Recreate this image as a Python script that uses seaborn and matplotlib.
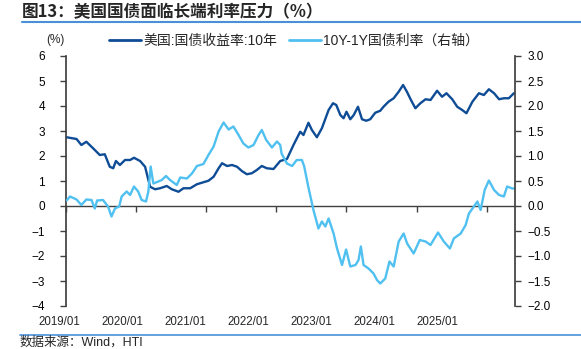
import numpy as np
import pandas as pd
import matplotlib
matplotlib.use("Agg")
import matplotlib.pyplot as plt
import matplotlib.dates as mdates
from matplotlib.lines import Line2D
from matplotlib.ticker import FixedLocator, NullFormatter, FuncFormatter
import seaborn as sns

# ---------------- data ----------------
title = "图13：美国国债面临长端利率压力（%）"
source = "数据来源：Wind，HTI"
series_names = ["美国:国债收益率:10年", "10Y-1Y国债利率（右轴）"]
x_labels = ["2019/01", "2020/01", "2021/01", "2022/01", "2023/01", "2024/01", "2025/01"]

dates_10y = [
    "2019-01-04", "2019-02-25", "2019-03-22", "2019-04-17", "2019-05-22", "2019-06-26",
    "2019-07-22", "2019-08-17", "2019-09-04", "2019-09-18", "2019-10-09", "2019-11-04",
    "2019-12-01", "2019-12-21", "2020-01-22", "2020-02-17", "2020-03-01", "2020-03-14",
    "2020-04-09", "2020-05-05", "2020-06-09", "2020-07-05", "2020-08-09", "2020-09-04",
    "2020-10-09", "2020-11-13", "2020-12-17", "2021-01-12", "2021-02-08", "2021-03-06",
    "2021-03-24", "2021-04-19", "2021-05-15", "2021-06-10", "2021-07-05", "2021-07-31",
    "2021-08-26", "2021-09-21", "2021-10-17", "2021-11-12", "2021-12-17", "2022-01-21",
    "2022-02-25", "2022-03-31", "2022-05-05", "2022-05-22", "2022-06-17", "2022-07-05",
    "2022-07-31", "2022-08-26", "2022-09-30", "2022-10-23", "2022-11-09", "2022-11-30",
    "2022-12-17", "2023-01-01", "2023-01-21", "2023-02-08", "2023-03-02", "2023-03-23",
    "2023-04-14", "2023-05-05", "2023-05-31", "2023-06-26", "2023-07-13", "2023-08-08",
    "2023-09-04", "2023-09-30", "2023-10-23", "2023-11-12", "2023-12-03", "2023-12-26",
    "2024-01-21", "2024-02-17", "2024-03-14", "2024-04-17", "2024-05-13", "2024-06-05",
    "2024-07-05", "2024-07-31", "2024-08-26", "2024-09-17", "2024-10-18", "2024-11-21",
    "2024-12-17", "2025-01-12", "2025-02-08", "2025-03-06", "2025-03-31", "2025-04-26",
    "2025-05-22",
]
yield_10y = [
    2.75, 2.68, 2.44, 2.57, 2.31, 2.04,
    2.07, 1.57, 1.51, 1.80, 1.64, 1.84,
    1.84, 1.93, 1.80, 1.57, 1.17, 0.77,
    0.67, 0.71, 0.80, 0.67, 0.57, 0.71,
    0.71, 0.87, 0.95, 1.01, 1.17, 1.51,
    1.71, 1.60, 1.64, 1.57, 1.40, 1.27,
    1.31, 1.44, 1.60, 1.51, 1.48, 1.80,
    1.88, 2.44, 2.97, 2.84, 3.33, 3.04,
    2.75, 3.11, 3.84, 4.11, 4.04, 3.64,
    3.51, 3.77, 3.47, 3.64, 3.97, 3.47,
    3.41, 3.47, 3.73, 3.81, 3.97, 4.17,
    4.31, 4.57, 4.84, 4.57, 4.24, 3.91,
    4.11, 4.27, 4.24, 4.61, 4.37, 4.51,
    4.27, 3.97, 3.84, 3.71, 4.17, 4.51,
    4.44, 4.67, 4.51, 4.27, 4.31, 4.31,
    4.51,
]

dates_spread = [
    "2019-01-04", "2019-01-22", "2019-02-25", "2019-03-22", "2019-04-17", "2019-05-14",
    "2019-05-31", "2019-06-12", "2019-07-13", "2019-08-08", "2019-08-26", "2019-09-13",
    "2019-10-05", "2019-10-18", "2019-11-13", "2019-12-01", "2019-12-21", "2020-01-12",
    "2020-01-30", "2020-02-22", "2020-03-05", "2020-03-17", "2020-03-31", "2020-04-26",
    "2020-05-14", "2020-06-05", "2020-06-26", "2020-07-31", "2020-08-18", "2020-09-22",
    "2020-10-18", "2020-11-13", "2020-12-17", "2021-01-12", "2021-02-08", "2021-03-06",
    "2021-04-01", "2021-04-27", "2021-05-22", "2021-06-18", "2021-07-13", "2021-08-08",
    "2021-09-04", "2021-09-30", "2021-10-17", "2021-11-09", "2021-12-09", "2022-01-04",
    "2022-01-21", "2022-01-28", "2022-02-25", "2022-03-24", "2022-04-17", "2022-05-14",
    "2022-05-26", "2022-06-17", "2022-07-13", "2022-08-08", "2022-08-26", "2022-09-13",
    "2022-09-30", "2022-10-26", "2022-11-13", "2022-12-09", "2022-12-30", "2023-01-21",
    "2023-02-17", "2023-03-05", "2023-03-17", "2023-03-31", "2023-04-26", "2023-05-22",
    "2023-06-09", "2023-06-26", "2023-07-22", "2023-08-13", "2023-09-04", "2023-09-30",
    "2023-10-26", "2023-11-13", "2023-12-17", "2024-01-18", "2024-02-17", "2024-03-14",
    "2024-04-22", "2024-05-22", "2024-06-23", "2024-07-13", "2024-08-18", "2024-09-13",
    "2024-09-30", "2024-10-26", "2024-11-13", "2024-11-30", "2024-12-21", "2025-01-12",
    "2025-02-08", "2025-03-06", "2025-03-31", "2025-04-17", "2025-05-14", "2025-05-26",
]
spread_10y_1y = [
    0.11, 0.19, 0.13, 0.02, 0.13, 0.12,
    -0.05, 0.11, 0.12, -0.01, -0.21, -0.05,
    -0.01, 0.19, 0.29, 0.22, 0.39, 0.29,
    0.12, 0.09, 0.29, 0.79, 0.45, 0.49,
    0.52, 0.60, 0.52, 0.42, 0.57, 0.55,
    0.65, 0.80, 0.84, 1.02, 1.19, 1.49,
    1.67, 1.53, 1.59, 1.42, 1.25, 1.17,
    1.22, 1.42, 1.52, 1.32, 1.17, 1.29,
    1.22, 1.05, 0.85, 0.80, 0.92, 0.92,
    0.79, 0.37, -0.08, -0.45, -0.31, -0.41,
    -0.25, -0.55, -0.85, -1.18, -0.87, -1.21,
    -1.18, -1.08, -0.81, -1.18, -1.25, -1.35,
    -1.48, -1.55, -1.45, -1.11, -1.21, -0.71,
    -0.55, -0.75, -0.95, -0.68, -0.71, -0.78,
    -0.53, -0.71, -0.85, -0.65, -0.55, -0.38,
    -0.15, -0.01, 0.09, -0.08, 0.32, 0.51,
    0.32, 0.22, 0.19, 0.39, 0.35, 0.35,
]

# ---------------- style ----------------
DARK = "#0f4c96"
LIGHT = "#4fc0f0"
GRAY = "#404040"
RULE = "#4a90d9"

sns.set_theme(style="white")
plt.rcParams["font.family"] = ["Liberation Sans", "Noto Sans CJK SC", "DejaVu Sans"]
plt.rcParams["axes.unicode_minus"] = True

W, H = 581, 349
fig = plt.figure(figsize=(W / 100, H / 100), dpi=100)
L, R, T, B = 66, 515, 56, 306
ax = fig.add_axes([L / W, 1 - B / H, (R - L) / W, (B - T) / H])
ax2 = ax.twinx()

d1 = pd.to_datetime(dates_10y)
d2 = pd.to_datetime(dates_spread)
sns.lineplot(x=d1, y=yield_10y, ax=ax, color=DARK, linewidth=1.7, legend=False)
sns.lineplot(x=d2, y=spread_10y_1y, ax=ax2, color=LIGHT, linewidth=1.7, legend=False)

ax.set_xlim(pd.Timestamp("2019-01-01"), pd.Timestamp("2025-05-28"))
ax.set_ylim(-4, 6)
ax.set_yticks(range(-4, 7))
ax2.set_ylim(-2, 3)
ax2.set_yticks(np.arange(-2, 3.01, 0.5))
ax2.yaxis.set_major_formatter(FuncFormatter(lambda v, p: f"{v:.1f}".replace("-", "\u2212")))
ax.set_xlabel("")
ax.set_ylabel("")
ax2.set_ylabel("")

for a in (ax, ax2):
    for s in a.spines.values():
        s.set_visible(False)
ax.spines["left"].set_visible(True)
ax.spines["left"].set_color(GRAY)
ax2.spines["right"].set_visible(True)
ax2.spines["right"].set_color(GRAY)

ax.tick_params(axis="y", left=True, direction="out", length=4, width=1, color=GRAY,
               pad=11, labelsize=8.5, labelcolor="black")
ax2.tick_params(axis="y", right=True, direction="out", length=4, width=1, color=GRAY,
                pad=5, labelsize=8.5, labelcolor="black")
ax.set_xticks([])

# zero line with yearly tick marks
year_starts = pd.date_range("2019-01-01", periods=len(x_labels), freq="YS")
secax = ax.secondary_xaxis(0.4)
secax.xaxis.set_major_locator(FixedLocator(mdates.date2num(year_starts)))
secax.xaxis.set_major_formatter(NullFormatter())
secax.tick_params(axis="x", bottom=True, direction="out", length=4, width=1, color=GRAY)
for s in secax.spines.values():
    s.set_color(GRAY)
    s.set_linewidth(1.0)

# x labels (evenly spread, as in the reference)
base = pd.Timestamp("2019-01-01")
for i, lab in enumerate(x_labels):
    pos = base + pd.Timedelta(days=(0.9 * i - 0.1) * 365.25)
    ax.text(pos, -0.064, lab, transform=ax.get_xaxis_transform(), ha="center",
            va="center", fontsize=8.3, clip_on=False)

# legend
handles = [Line2D([], [], color=DARK, lw=2), Line2D([], [], color=LIGHT, lw=2)]
fig.legend(handles, series_names, loc="center left", bbox_to_anchor=(109 / W, 1 - 41 / H),
           ncol=2, frameon=False, fontsize=10, handlelength=2.3, handletextpad=0.2,
           columnspacing=0.8, borderaxespad=0, borderpad=0)

fig.text(55 / W, 1 - 40 / H, "(%)", ha="center", va="center", fontsize=8.5)

# title, rules, source
fig.text(22 / W, 1 - 12 / H, title, ha="left", va="center", fontsize=12, fontweight="bold",
         family=["Noto Sans CJK SC", "DejaVu Sans"])
fig.add_artist(Line2D([22 / W, 1], [1 - 22 / H] * 2, transform=fig.transFigure, color=RULE, lw=1.5))
fig.add_artist(Line2D([20 / W, 1], [1 - 335 / H] * 2, transform=fig.transFigure, color=RULE, lw=1.2))
fig.text(20 / W, 1 - 342.5 / H, source, ha="left", va="center", fontsize=9)

fig.savefig("out.png", dpi=100)
